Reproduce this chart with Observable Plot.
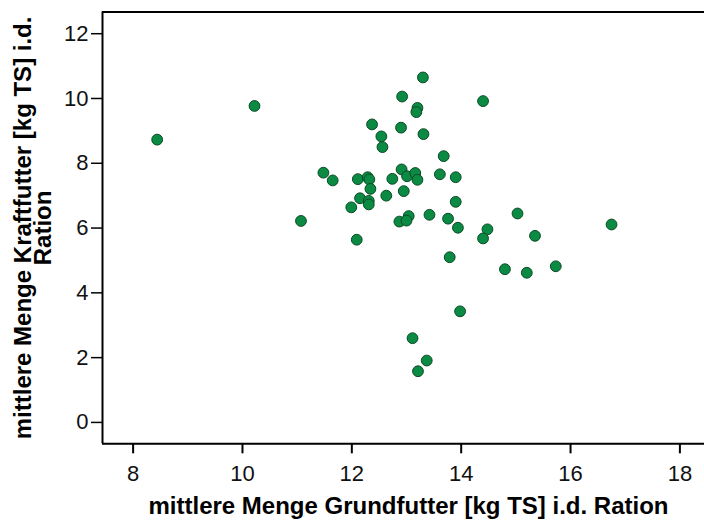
<!DOCTYPE html>
<html>
<head>
<meta charset="utf-8">
<script src="https://cdn.jsdelivr.net/npm/d3@7"></script>
<script src="https://cdn.jsdelivr.net/npm/@observablehq/plot@0.6"></script>
<style>
  html, body { margin: 0; padding: 0; background: #fff; }
  svg { display: block; }
</style>
</head>
<body>
<div id="chart"></div>
<script>
const grundfutter = [
  8.44, 10.22, 11.48, 11.65, 11.07, 11.99, 12.09,
  13.30, 12.92, 14.40, 13.20, 13.18, 12.37, 12.90, 13.31, 12.54, 12.56,
  13.68, 12.91, 12.11, 12.29, 12.32, 12.74, 13.01, 13.16, 13.20, 13.61,
  13.90, 12.34, 12.95, 12.63, 12.15, 12.31, 12.31, 13.90, 13.04, 13.42,
  15.03, 12.87, 13.00, 13.76, 16.75, 13.94, 14.48, 14.40, 15.35, 13.79,
  14.80, 15.20, 15.73, 13.98, 13.11, 13.37, 13.21
];
const kraftfutter = [
  8.73, 9.77, 7.71, 7.47, 6.22, 6.64, 5.64,
  10.65, 10.06, 9.92, 9.71, 9.58, 9.20, 9.10, 8.90, 8.83, 8.50,
  8.22, 7.81, 7.51, 7.57, 7.50, 7.52, 7.60, 7.70, 7.49, 7.66,
  7.57, 7.21, 7.14, 7.00, 6.92, 6.84, 6.73, 6.81, 6.37, 6.41,
  6.45, 6.20, 6.23, 6.29, 6.11, 6.01, 5.96, 5.68, 5.76, 5.10,
  4.73, 4.62, 4.82, 3.43, 2.60, 1.91, 1.58
];
const xTicks = [8, 10, 12, 14, 16, 18];
const yTicks = [0, 2, 4, 6, 8, 10, 12];
const xDomain = [7.44, 18.45];
const yDomain = [-0.66, 12.67];
const xLabel = "mittlere Menge Grundfutter [kg TS] i.d. Ration";
const yLabel = "mittlere Menge Kraftfutter [kg TS] i.d.\nRation";

const data = grundfutter.map((g, i) => ({g, k: kraftfutter[i]}));

const chart = Plot.plot({
  width: 704,
  height: 521,
  marginLeft: 102,
  marginTop: 11.5,
  marginRight: 0,
  marginBottom: 77.7,
  style: {fontFamily: "'Liberation Sans', Arial, sans-serif", background: "#fff"},
  x: {domain: xDomain},
  y: {domain: yDomain},
  marks: [
    Plot.axisX(xTicks, {tickSize: 10, tickPadding: 12, fontSize: 22, stroke: "#000", strokeWidth: 2, color: "#111", label: null}),
    Plot.axisY(yTicks, {tickSize: 11, tickPadding: 3, fontSize: 22, stroke: "#000", strokeWidth: 1.5, color: "#111", label: null}),
    Plot.ruleY([yDomain[0]], {stroke: "#000", strokeWidth: 2}),
    Plot.ruleY([yDomain[1]], {stroke: "#000", strokeWidth: 2}),
    Plot.ruleX([xDomain[0]], {stroke: "#000", strokeWidth: 2}),
    Plot.dot(data, {x: "g", y: "k", r: 5.4, fill: "#0b8a44", stroke: "#0a4a24", strokeWidth: 1}),
    Plot.text([xLabel], {frameAnchor: "bottom", textAnchor: "middle", dx: 5, dy: 70, fontSize: 24, fontWeight: "bold", fill: "#000"}),
    Plot.text([yLabel], {frameAnchor: "left", textAnchor: "middle", rotate: -90, dx: -68, lineAnchor: "middle", lineHeight: 0.83, fontSize: 24, fontWeight: "bold", fill: "#000"})
  ]
});
document.getElementById("chart").appendChild(chart);
</script>
</body>
</html>
